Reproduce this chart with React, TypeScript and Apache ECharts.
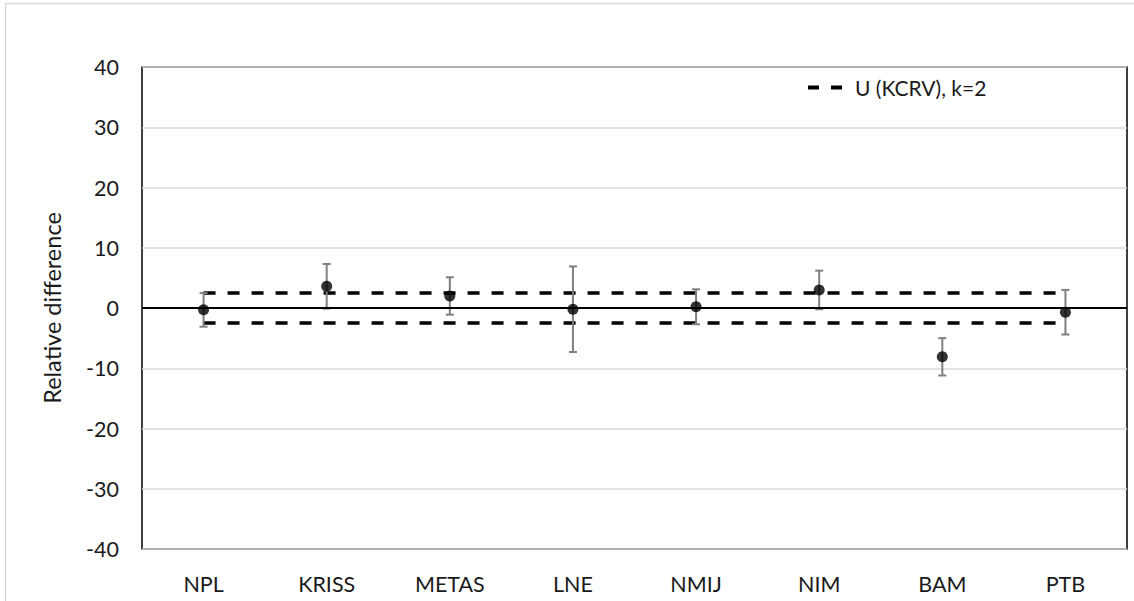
import React, { useEffect, useRef } from "react";
import * as echarts from "echarts";

const categories = ["NPL", "KRISS", "METAS", "LNE", "NMIJ", "NIM", "BAM", "PTB"];
const values = [-0.3, 3.6, 2.0, -0.2, 0.2, 3.0, -8.1, -0.7];
const uncertainty = [2.8, 3.7, 3.1, 7.1, 2.9, 3.2, 3.1, 3.7];
const kcrvU = 2.5;
const yTicks = { min: -40, max: 40, interval: 10 };
const legendName = "U (KCRV), k=2";

const FONT = "Lato";
const TEXT = "#1a1a1a";

export default function App() {
  const ref = useRef<HTMLDivElement>(null);
  useEffect(() => {
    if (!ref.current) return;
    const chart = echarts.init(ref.current, undefined, { renderer: "svg" });
    const upper = categories.map(() => kcrvU);
    const lower = categories.map(() => -kcrvU);
    const errData = categories.map((_, i) => [i, values[i] - uncertainty[i], values[i] + uncertainty[i]]);
    const dashStyle = { color: "#000", width: 3.5, type: [12, 12] as number[] };
    chart.setOption({
      animation: false,
      backgroundColor: "#fff",
      textStyle: { fontFamily: FONT },
      graphic: [
        {
          type: "rect",
          shape: { x: 5.5, y: 3.5, width: 1140, height: 700 },
          style: { fill: "none", stroke: "#d9d9d9", lineWidth: 1.5 },
          silent: true,
          z: -10,
        },
      ],
      grid: {
        left: 142,
        top: 67,
        right: 7,
        bottom: 52,
        show: true,
        borderColor: "#000",
        borderWidth: 1.5,
      },
      legend: {
        show: true,
        data: [
          {
            name: legendName,
            icon: "path://M0,0 L11,0 L11,4 L0,4 Z M23,0 L34,0 L34,4 L23,4 Z",
            itemStyle: { color: "#000", borderWidth: 0 },
          },
        ],
        left: 803,
        top: 72,
        itemWidth: 34,
        itemHeight: 4,
        selectedMode: false,
        formatter: (name: string) => "{a|" + name + "}",
        textStyle: {
          fontFamily: FONT,
          fontSize: 21,
          color: TEXT,
          rich: { a: { fontFamily: FONT, fontSize: 21, color: TEXT, padding: [0, 0, 0, 8] } },
        },
      },
      xAxis: {
        type: "category",
        data: categories,
        boundaryGap: true,
        axisLine: { show: false },
        axisTick: { show: false },
        axisLabel: { fontSize: 21.5, color: TEXT, margin: 24, fontFamily: FONT },
        splitLine: { show: false },
      },
      yAxis: {
        type: "value",
        min: yTicks.min,
        max: yTicks.max,
        interval: yTicks.interval,
        name: "Relative difference",
        nameLocation: "middle",
        nameGap: 78,
        nameTextStyle: { fontSize: 23.5, color: TEXT, fontFamily: FONT },
        axisLine: { show: false },
        axisTick: { show: false },
        axisLabel: { fontSize: 21.5, color: TEXT, margin: 23, fontFamily: FONT },
        splitLine: { show: true, lineStyle: { color: "#d9d9d9", width: 1.5 } },
      },
      series: [
        {
          name: "zero",
          type: "line",
          data: [],
          silent: true,
          markLine: {
            silent: true,
            symbol: "none",
            label: { show: false },
            lineStyle: { color: "#000", width: 2, type: "solid" },
            data: [{ yAxis: 0 }],
          },
        },
        {
          name: legendName,
          type: "line",
          data: upper,
          symbol: "none",
          lineStyle: dashStyle,
          itemStyle: { color: "#000" },
          z: 3,
        },
        {
          name: legendName + " ",
          type: "line",
          data: lower,
          symbol: "none",
          lineStyle: dashStyle,
          itemStyle: { color: "#000" },
          z: 3,
        },
        {
          name: "error",
          type: "custom",
          data: errData,
          z: 4,
          renderItem: (params: any, api: any) => {
            const x = api.value(0);
            const lo = api.coord([x, api.value(1)]);
            const hi = api.coord([x, api.value(2)]);
            const cap = 4;
            const style = { stroke: "#7f7f7f", lineWidth: 2 };
            return {
              type: "group",
              children: [
                { type: "line", shape: { x1: hi[0], y1: hi[1], x2: lo[0], y2: lo[1] }, style },
                { type: "line", shape: { x1: hi[0] - cap, y1: hi[1], x2: hi[0] + cap, y2: hi[1] }, style },
                { type: "line", shape: { x1: lo[0] - cap, y1: lo[1], x2: lo[0] + cap, y2: lo[1] }, style },
              ],
            };
          },
        },
        {
          name: "values",
          type: "scatter",
          data: values,
          symbol: "circle",
          symbolSize: 11,
          itemStyle: { color: "#000" },
          z: 5,
        },
      ],
    });
    return () => chart.dispose();
  }, []);
  return (
    <div
      ref={ref}
      style={{ position: "absolute", left: 0, top: 0, width: 1134, height: 601 }}
    />
  );
}
